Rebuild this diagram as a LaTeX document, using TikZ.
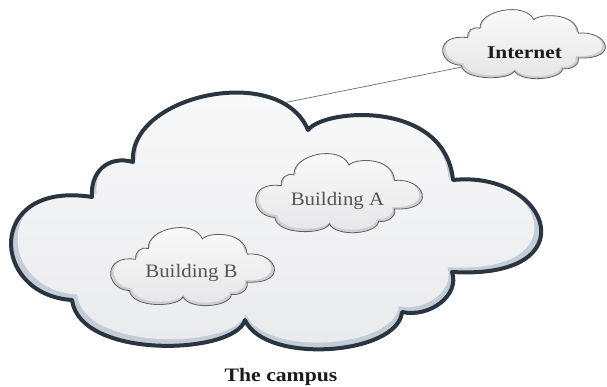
\documentclass[tikz,border=0pt]{standalone}
\usepackage{fontspec}
\usepackage{graphicx}
\setmainfont{Liberation Serif}
\definecolor{cloudline}{HTML}{2B3441}
\definecolor{bigshadow}{HTML}{C3CCD7}
\definecolor{bigtop}{HTML}{FAFAFB}
\definecolor{bigbottom}{HTML}{E9EAEC}
\definecolor{smallline}{HTML}{5E5E5E}
\definecolor{smallshadow}{HTML}{CFCFD2}
\definecolor{smalltop}{HTML}{FBFBFB}
\definecolor{smallbottom}{HTML}{E6E6E8}
\definecolor{linkgray}{HTML}{6A6A6A}
\definecolor{labelgray}{HTML}{555555}
\definecolor{titleblack}{HTML}{1C1C1C}
\newcommand{\cloudpath}{(72,300) .. controls (-10,295) and (-15,180) .. (92,197)
 .. controls (90,172) and (108,155) .. (133,162)
 .. controls (128,95) and (280,62) .. (308,130)
 .. controls (325,108) and (445,100) .. (453,180)
 .. controls (550,170) and (590,280) .. (452,272)
 .. controls (460,295) and (430,318) .. (402,312)
 .. controls (398,355) and (265,365) .. (245,320)
 .. controls (235,355) and (80,360) .. (72,300) -- cycle}
% #1 inner transform, #2 shadow, #3 top, #4 bottom, #5 outline options
\newcommand{\drawcloud}[5]{%
 \begin{scope}
  \clip \cloudpath;
  \fill[#2] \cloudpath;
  \begin{scope}[#1]
   \shade[top color=#3, bottom color=#4] \cloudpath;
  \end{scope}
 \end{scope}
 \draw[#5] \cloudpath;}
\tikzset{
 bigoutline/.style={line width=4pt, color=cloudline, line join=round},
 smalloutline/.style={line width=0.8pt, color=smallline, line join=round},
 link/.style={line width=0.7pt, color=linkgray},
 buildinglabel/.style={font=\fontsize{19}{22}\selectfont, text=labelgray, inner sep=0pt, anchor=base},
 titlelabel/.style={font=\fontsize{19}{22}\selectfont\bfseries, text=titleblack, inner sep=0pt, anchor=base},
}
\begin{document}
\begin{tikzpicture}[x=1pt,y=-1pt]
\useasboundingbox (0,0) rectangle (607,387);
\fill[white] (0,0) rectangle (607,387);
% connector endpoints
\coordinate (campus) at (278,104);
\coordinate (internet) at (462,67);
\draw[link] (campus) -- (internet);
% big campus cloud
\drawcloud{shift={(6.75,2)}, scale=0.975}{bigshadow}{bigtop}{bigbottom}{bigoutline}
% Building A
\begin{scope}[shift={(252.17,125.02)}, xscale=0.3146, yscale=0.3083]
 \drawcloud{shift={(10.8,4)}, scale=0.96}{smallshadow}{smalltop}{smallbottom}{smalloutline}
\end{scope}
% Building B
\begin{scope}[shift={(107.22,199.42)}, xscale=0.309, yscale=0.304]
 \drawcloud{shift={(10.8,4)}, scale=0.96}{smallshadow}{smalltop}{smallbottom}{smalloutline}
\end{scope}
% Internet
\begin{scope}[shift={(439.24,-15.29)}, xscale=0.307, yscale=0.269]
 \drawcloud{shift={(10.8,4)}, scale=0.96}{smallshadow}{smalltop}{smallbottom}{smalloutline}
\end{scope}
% labels
\node[buildinglabel] (ba) at (337.5,206) {\scalebox{1.1}[1]{Building A}};
\node[buildinglabel] (bb) at (191.5,277) {\scalebox{1.1}[1]{Building B}};
\node[titlelabel, font=\fontsize{18}{21}\selectfont\bfseries] (inet) at (524.5,59) {\scalebox{1.19}[1]{Internet}};
\node[titlelabel] (tc) at (281,381) {\scalebox{1.14}[1]{The campus}};
\end{tikzpicture}
\end{document}
